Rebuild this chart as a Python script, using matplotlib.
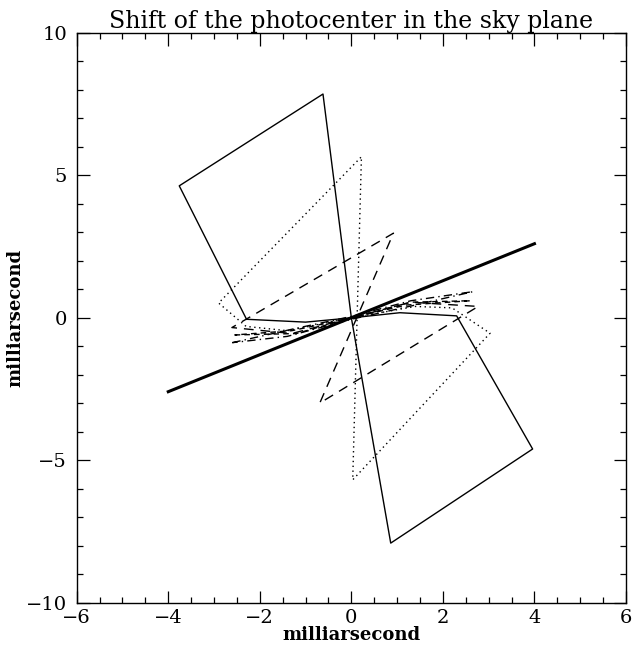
import matplotlib
matplotlib.use("Agg")
import matplotlib.pyplot as plt
from matplotlib.ticker import MultipleLocator

# Solid thin curve (photocenter track)
solid_x = [-2.29, -3.76, -0.62, 0.0, 0.86, 3.96, 2.30, 1.06, 0.0, -1.0, -2.29]
solid_y = [-0.05, 4.63, 7.85, 0.0, -7.90, -4.60, 0.07, 0.18, 0.0, -0.15, -0.05]

# Thick straight line
thick_x = [-4.0, 4.0]
thick_y = [-2.59, 2.60]

# Dotted curve
dot_x = [0.0, -1.4, -2.3, -2.90, 0.22, 0.03, 3.03, 2.2, 1.4, 0.0]
dot_y = [0.0, -0.45, -0.30, 0.52, 5.65, -5.68, -0.54, 0.35, 0.40, 0.0]

# Long-dashed curve
dash_x = [0.0, -1.3, -2.61, 0.92, -0.69, 2.77, 1.3, 0.0]
dash_y = [0.0, -0.55, -0.34, 2.97, -2.99, 0.40, 0.55, 0.0]

# Dash-dot curve
dd_x = [-2.60, -1.3, 0.0, 1.3, 2.66, 1.4, 0.0, -1.4, -2.60]
dd_y = [-0.87, -0.40, 0.05, 0.60, 0.92, 0.45, -0.05, -0.65, -0.87]

# Short-dashed curve
sd_x = [-2.55, -1.2, 0.0, 1.2, 2.60, 1.3, 0.0, -1.3, -2.55]
sd_y = [-0.60, -0.55, 0.0, 0.45, 0.60, 0.55, 0.0, -0.45, -0.60]

fig = plt.figure(figsize=(6.32, 6.52), dpi=100)
ax = fig.add_axes([0.1214, 0.0752, 0.8691, 0.8746])

ax.plot(solid_x, solid_y, color="black", lw=1.0, ls="-")
ax.plot(thick_x, thick_y, color="black", lw=2.2, ls="-")
ax.plot(dot_x, dot_y, color="black", lw=1.0, ls=(0, (1, 2.5)))
ax.plot(dash_x, dash_y, color="black", lw=1.0, ls=(0, (7, 5)))
ax.plot(dd_x, dd_y, color="black", lw=1.0, ls=(0, (6, 3, 1, 3)))
ax.plot(sd_x, sd_y, color="black", lw=1.0, ls=(0, (4, 3)))

ax.set_xlim(-6, 6)
ax.set_ylim(-10, 10)
ax.xaxis.set_major_locator(MultipleLocator(2))
ax.xaxis.set_minor_locator(MultipleLocator(0.5))
ax.yaxis.set_major_locator(MultipleLocator(5))
ax.yaxis.set_minor_locator(MultipleLocator(1))
ax.tick_params(which="both", direction="in", top=True, right=True, width=0.9)
ax.tick_params(which="major", length=9, labelsize=14)
ax.tick_params(axis="x", which="major", pad=4)
ax.tick_params(axis="y", which="major", pad=7)
ax.tick_params(which="minor", length=4.5)
for lab in ax.get_xticklabels() + ax.get_yticklabels():
    lab.set_family("DejaVu Serif")
for s in ax.spines.values():
    s.set_linewidth(1.0)

ax.set_title("Shift of the photocenter in the sky plane", family="DejaVu Serif",
             fontsize=17, pad=3)
ax.set_xlabel("milliarsecond", family="DejaVu Serif", fontsize=13, fontweight="bold")
ax.set_ylabel("milliarsecond", family="DejaVu Serif", fontsize=13, fontweight="bold")
ax.xaxis.set_label_coords(0.5, -0.04)
ax.yaxis.set_label_coords(-0.095, 0.5)

fig.savefig("out.png", dpi=100)
